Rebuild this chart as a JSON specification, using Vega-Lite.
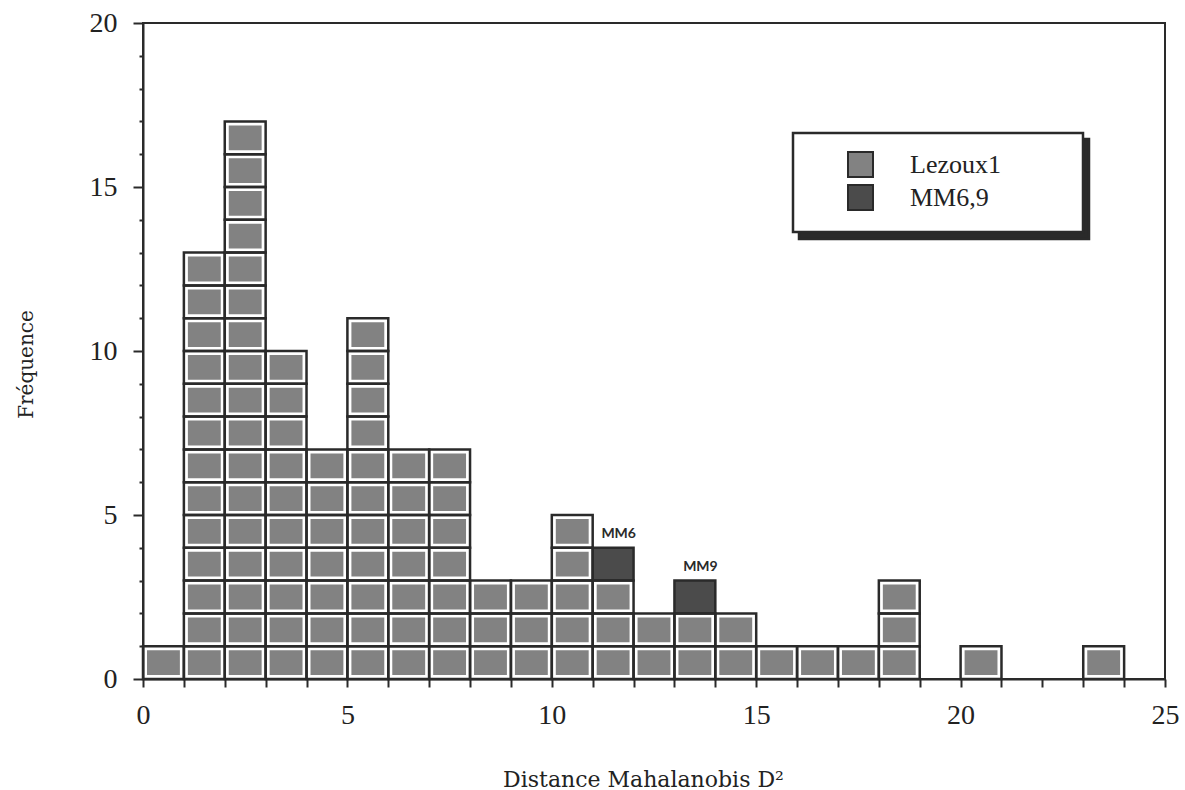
{
  "$schema": "https://vega.github.io/schema/vega-lite/v6.json",
  "width": 1022,
  "height": 656,
  "autosize": {"type": "none"},
  "padding": {"left": 143, "top": 23, "right": 20, "bottom": 111},
  "background": "white",
  "config": {"view": {"stroke": "#2a2a2a", "strokeWidth": 2}, "legend": {"strokeWidth": 2.5}},
  "data": {"values": [
    {"b0":0,"b1":1,"k":1,"s":"Lezoux1"},
    {"b0":1,"b1":2,"k":1,"s":"Lezoux1"},{"b0":1,"b1":2,"k":2,"s":"Lezoux1"},{"b0":1,"b1":2,"k":3,"s":"Lezoux1"},{"b0":1,"b1":2,"k":4,"s":"Lezoux1"},{"b0":1,"b1":2,"k":5,"s":"Lezoux1"},{"b0":1,"b1":2,"k":6,"s":"Lezoux1"},{"b0":1,"b1":2,"k":7,"s":"Lezoux1"},{"b0":1,"b1":2,"k":8,"s":"Lezoux1"},{"b0":1,"b1":2,"k":9,"s":"Lezoux1"},{"b0":1,"b1":2,"k":10,"s":"Lezoux1"},{"b0":1,"b1":2,"k":11,"s":"Lezoux1"},{"b0":1,"b1":2,"k":12,"s":"Lezoux1"},{"b0":1,"b1":2,"k":13,"s":"Lezoux1"},
    {"b0":2,"b1":3,"k":1,"s":"Lezoux1"},{"b0":2,"b1":3,"k":2,"s":"Lezoux1"},{"b0":2,"b1":3,"k":3,"s":"Lezoux1"},{"b0":2,"b1":3,"k":4,"s":"Lezoux1"},{"b0":2,"b1":3,"k":5,"s":"Lezoux1"},{"b0":2,"b1":3,"k":6,"s":"Lezoux1"},{"b0":2,"b1":3,"k":7,"s":"Lezoux1"},{"b0":2,"b1":3,"k":8,"s":"Lezoux1"},{"b0":2,"b1":3,"k":9,"s":"Lezoux1"},{"b0":2,"b1":3,"k":10,"s":"Lezoux1"},{"b0":2,"b1":3,"k":11,"s":"Lezoux1"},{"b0":2,"b1":3,"k":12,"s":"Lezoux1"},{"b0":2,"b1":3,"k":13,"s":"Lezoux1"},{"b0":2,"b1":3,"k":14,"s":"Lezoux1"},{"b0":2,"b1":3,"k":15,"s":"Lezoux1"},{"b0":2,"b1":3,"k":16,"s":"Lezoux1"},{"b0":2,"b1":3,"k":17,"s":"Lezoux1"},
    {"b0":3,"b1":4,"k":1,"s":"Lezoux1"},{"b0":3,"b1":4,"k":2,"s":"Lezoux1"},{"b0":3,"b1":4,"k":3,"s":"Lezoux1"},{"b0":3,"b1":4,"k":4,"s":"Lezoux1"},{"b0":3,"b1":4,"k":5,"s":"Lezoux1"},{"b0":3,"b1":4,"k":6,"s":"Lezoux1"},{"b0":3,"b1":4,"k":7,"s":"Lezoux1"},{"b0":3,"b1":4,"k":8,"s":"Lezoux1"},{"b0":3,"b1":4,"k":9,"s":"Lezoux1"},{"b0":3,"b1":4,"k":10,"s":"Lezoux1"},
    {"b0":4,"b1":5,"k":1,"s":"Lezoux1"},{"b0":4,"b1":5,"k":2,"s":"Lezoux1"},{"b0":4,"b1":5,"k":3,"s":"Lezoux1"},{"b0":4,"b1":5,"k":4,"s":"Lezoux1"},{"b0":4,"b1":5,"k":5,"s":"Lezoux1"},{"b0":4,"b1":5,"k":6,"s":"Lezoux1"},{"b0":4,"b1":5,"k":7,"s":"Lezoux1"},
    {"b0":5,"b1":6,"k":1,"s":"Lezoux1"},{"b0":5,"b1":6,"k":2,"s":"Lezoux1"},{"b0":5,"b1":6,"k":3,"s":"Lezoux1"},{"b0":5,"b1":6,"k":4,"s":"Lezoux1"},{"b0":5,"b1":6,"k":5,"s":"Lezoux1"},{"b0":5,"b1":6,"k":6,"s":"Lezoux1"},{"b0":5,"b1":6,"k":7,"s":"Lezoux1"},{"b0":5,"b1":6,"k":8,"s":"Lezoux1"},{"b0":5,"b1":6,"k":9,"s":"Lezoux1"},{"b0":5,"b1":6,"k":10,"s":"Lezoux1"},{"b0":5,"b1":6,"k":11,"s":"Lezoux1"},
    {"b0":6,"b1":7,"k":1,"s":"Lezoux1"},{"b0":6,"b1":7,"k":2,"s":"Lezoux1"},{"b0":6,"b1":7,"k":3,"s":"Lezoux1"},{"b0":6,"b1":7,"k":4,"s":"Lezoux1"},{"b0":6,"b1":7,"k":5,"s":"Lezoux1"},{"b0":6,"b1":7,"k":6,"s":"Lezoux1"},{"b0":6,"b1":7,"k":7,"s":"Lezoux1"},
    {"b0":7,"b1":8,"k":1,"s":"Lezoux1"},{"b0":7,"b1":8,"k":2,"s":"Lezoux1"},{"b0":7,"b1":8,"k":3,"s":"Lezoux1"},{"b0":7,"b1":8,"k":4,"s":"Lezoux1"},{"b0":7,"b1":8,"k":5,"s":"Lezoux1"},{"b0":7,"b1":8,"k":6,"s":"Lezoux1"},{"b0":7,"b1":8,"k":7,"s":"Lezoux1"},
    {"b0":8,"b1":9,"k":1,"s":"Lezoux1"},{"b0":8,"b1":9,"k":2,"s":"Lezoux1"},{"b0":8,"b1":9,"k":3,"s":"Lezoux1"},
    {"b0":9,"b1":10,"k":1,"s":"Lezoux1"},{"b0":9,"b1":10,"k":2,"s":"Lezoux1"},{"b0":9,"b1":10,"k":3,"s":"Lezoux1"},
    {"b0":10,"b1":11,"k":1,"s":"Lezoux1"},{"b0":10,"b1":11,"k":2,"s":"Lezoux1"},{"b0":10,"b1":11,"k":3,"s":"Lezoux1"},{"b0":10,"b1":11,"k":4,"s":"Lezoux1"},{"b0":10,"b1":11,"k":5,"s":"Lezoux1"},
    {"b0":11,"b1":12,"k":1,"s":"Lezoux1"},{"b0":11,"b1":12,"k":2,"s":"Lezoux1"},{"b0":11,"b1":12,"k":3,"s":"Lezoux1"},{"b0":11,"b1":12,"k":4,"s":"MM6,9","label":"MM6"},
    {"b0":12,"b1":13,"k":1,"s":"Lezoux1"},{"b0":12,"b1":13,"k":2,"s":"Lezoux1"},
    {"b0":13,"b1":14,"k":1,"s":"Lezoux1"},{"b0":13,"b1":14,"k":2,"s":"Lezoux1"},{"b0":13,"b1":14,"k":3,"s":"MM6,9","label":"MM9"},
    {"b0":14,"b1":15,"k":1,"s":"Lezoux1"},{"b0":14,"b1":15,"k":2,"s":"Lezoux1"},
    {"b0":15,"b1":16,"k":1,"s":"Lezoux1"},
    {"b0":16,"b1":17,"k":1,"s":"Lezoux1"},
    {"b0":17,"b1":18,"k":1,"s":"Lezoux1"},
    {"b0":18,"b1":19,"k":1,"s":"Lezoux1"},{"b0":18,"b1":19,"k":2,"s":"Lezoux1"},{"b0":18,"b1":19,"k":3,"s":"Lezoux1"},
    {"b0":20,"b1":21,"k":1,"s":"Lezoux1"},
    {"b0":23,"b1":24,"k":1,"s":"Lezoux1"}
  ]},
  "transform": [
    {"aggregate": [{"op": "count", "as": "n"}], "groupby": ["b0", "b1", "k", "s", "label"]},
    {"stack": "n", "groupby": ["b0"], "sort": [{"field": "k", "order": "ascending"}], "as": ["y0", "y1"]}
  ],
  "encoding": {
    "x": {
      "field": "b0", "type": "quantitative",
      "scale": {"domain": [0, 25], "nice": false, "zero": false},
      "axis": {
        "values": [0,1,2,3,4,5,6,7,8,9,10,11,12,13,14,15,16,17,18,19,20,21,22,23,24,25],
        "labelExpr": "datum.value % 5 === 0 ? datum.label : ''",
        "grid": false, "tickSize": 8, "tickWidth": 2, "tickColor": "#2a2a2a",
        "domainColor": "#2a2a2a", "domainWidth": 2,
        "labelFont": "Liberation Serif", "labelFontSize": 28, "labelColor": "#222",
        "labelPadding": 14, "labelFlush": false, "labelOverlap": false,
        "title": "Distance Mahalanobis D²",
        "titleFont": "DejaVu Serif", "titleFontSize": 22, "titleFontWeight": "normal", "titleColor": "#222",
        "titleBaseline": "alphabetic", "titleX": 500, "titleY": 107, "titleAlign": "center"
      }
    },
    "y": {
      "field": "y1", "type": "quantitative",
      "scale": {"domain": [0, 20], "nice": false},
      "axis": {
        "values": [0,1,2,3,4,5,6,7,8,9,10,11,12,13,14,15,16,17,18,19,20],
        "labelExpr": "datum.value % 5 === 0 ? datum.label : ''",
        "grid": false,
        "tickSize": {"condition": {"test": "datum.value % 5 === 0", "value": 10}, "value": 4},
        "tickWidth": 2, "tickColor": "#2a2a2a",
        "domainColor": "#2a2a2a", "domainWidth": 2,
        "labelFont": "Liberation Serif", "labelFontSize": 28, "labelColor": "#222",
        "labelPadding": 16, "labelOverlap": false, "labelFlush": false,
        "title": "Fréquence",
        "titleFont": "DejaVu Serif", "titleFontSize": 20, "titleFontWeight": "normal", "titleColor": "#222",
        "titleAngle": 270, "titleBaseline": "alphabetic", "titleAlign": "center", "titleX": -111, "titleY": 341
      }
    }
  },
  "layer": [
    {
      "transform": [{"filter": "datum.s === 'Lezoux1'"}],
      "mark": {"type": "rect", "xOffset": 4, "x2Offset": -4, "yOffset": 4, "y2Offset": -4},
      "encoding": {
        "x2": {"field": "b1"},
        "y2": {"field": "y0"},
        "fill": {
          "field": "s", "type": "nominal",
          "scale": {"domain": ["Lezoux1", "MM6,9"], "range": ["#828282", "#4b4b4b"]},
          "legend": {
            "title": null, "orient": "none", "legendX": 650, "legendY": 110, "direction": "vertical", "zindex": 2,
            "padding": 18, "fillColor": "white", "strokeColor": "#2a2a2a",
            "symbolType": "square", "symbolSize": 625, "symbolStrokeColor": "#2a2a2a", "symbolStrokeWidth": 2,
            "symbolOffset": 36, "labelFont": "Liberation Serif", "labelFontSize": 26, "labelColor": "#222",
            "labelOffset": 36, "labelLimit": 400, "rowPadding": 0,
            "labelExpr": "pad(datum.label, 9, '\u2800')"
          }
        }
      }
    },
    {
      "transform": [{"filter": "datum.s === 'MM6,9'"}],
      "mark": {"type": "rect"},
      "encoding": {
        "x2": {"field": "b1"},
        "y2": {"field": "y0"},
        "fill": {
          "field": "s", "type": "nominal",
          "scale": {"domain": ["Lezoux1", "MM6,9"], "range": ["#828282", "#4b4b4b"]},
          "legend": {
            "title": null, "orient": "none", "legendX": 650, "legendY": 110, "direction": "vertical", "zindex": 2,
            "padding": 18, "fillColor": "white", "strokeColor": "#2a2a2a",
            "symbolType": "square", "symbolSize": 625, "symbolStrokeColor": "#2a2a2a", "symbolStrokeWidth": 2,
            "symbolOffset": 36, "labelFont": "Liberation Serif", "labelFontSize": 26, "labelColor": "#222",
            "labelOffset": 36, "labelLimit": 400, "rowPadding": 0,
            "labelExpr": "pad(datum.label, 9, '\u2800')"
          }
        }
      }
    },
    {
      "mark": {"type": "rect", "filled": false, "strokeWidth": 2.5},
      "encoding": {
        "x2": {"field": "b1"},
        "y2": {"field": "y0"},
        "stroke": {
          "field": "s", "type": "nominal",
          "scale": {"domain": ["MM6,9", "Lezoux1"], "range": ["#2a2a2a", "#2a2a2a"]},
          "legend": {
            "title": null, "orient": "none", "legendX": 656, "legendY": 116, "direction": "vertical", "zindex": 1,
            "padding": 18, "fillColor": "#2a2a2a", "strokeColor": "#2a2a2a",
            "symbolType": "square", "symbolSize": 992, "symbolOpacity": 0, "symbolStrokeWidth": 0,
            "symbolOffset": 222, "labelOffset": 0, "labelFontSize": 1, "rowPadding": 0,
            "labelExpr": "''"
          }
        }
      }
    },
    {
      "transform": [{"filter": "datum.label != null"}],
      "mark": {"type": "text", "dx": 26, "dy": -10, "align": "center", "baseline": "alphabetic", "font": "Lato", "fontWeight": "bold", "fontSize": 14, "color": "#2a2a2a"},
      "encoding": {
        "text": {"field": "label"}
      }
    }
  ]
}
